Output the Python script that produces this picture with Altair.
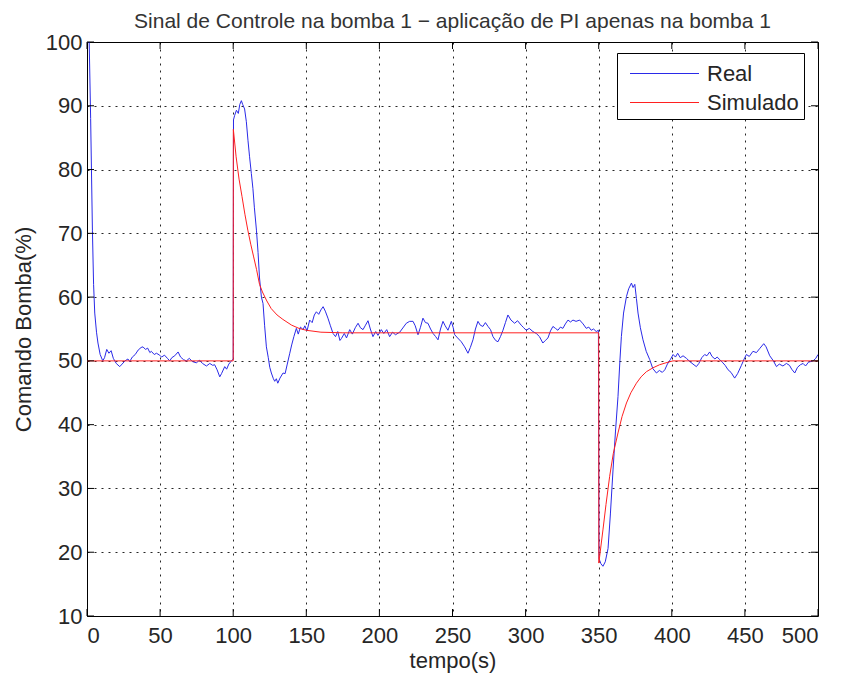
import altair as alt
import pandas as pd

# ---------------- data ----------------
real_t = [0, 1.5, 2.5, 3.7, 4.5, 5.3, 6.5, 7.5, 9, 10.8, 12, 13.5, 15, 16.5, 18, 20, 22.4, 24, 26, 28,
          29.2, 31, 33, 35, 37, 38.3, 40, 41.5, 43, 44, 46, 47.5, 49.7, 51, 53, 55, 56.6, 58, 60, 62.3,
          64, 66, 68, 70, 72, 74.8, 77, 79, 81.7, 84, 86, 87.3, 89, 90.8, 92, 94.2, 95.5, 97, 98.8, 100,
          100.2, 101, 102.2, 103.5, 104.5, 105.6, 106.5, 107.8, 109, 110.1, 111.2, 112.4, 113.5, 114.5, 115.9,
          117, 118, 119.3, 120.4, 121.5, 122.7, 124, 125, 126.1, 127.5, 128.4, 129.5, 130.5, 132, 134.1,
          135.5, 137, 138.7, 140, 141.5, 143.2, 144.5, 146, 147.8, 149, 150.5, 152.3, 154, 155.5, 156.9,
          158.5, 160, 161.5, 163, 164.8, 166.5, 168.3, 170, 171.5, 173, 174, 176, 177.5, 179.7, 181.5,
          183.5, 185.4, 187, 188.8, 190.5, 192.2, 193.8, 195.6, 197.5, 199, 201.3, 203, 205, 207, 209,
          211, 213.9, 215.5, 218.4, 220.7, 223, 224.5, 226.4, 228, 229.8, 231.5, 233.2, 235, 236.7, 238.5,
          240.1, 241.8, 243.5, 245, 246.9, 249.2, 250.5, 251.5, 253.5, 256, 258.3, 260.6, 262.2, 264,
          265.7, 267.4, 269, 270.8, 272.5, 274.3, 276, 277.7, 279.5, 281.1, 282.8, 284.5, 286.2, 287.9,
          290, 292.5, 294.5, 297, 298.7, 300.4, 302.5, 305, 307.3, 309.5, 311.8, 313.5, 315.3, 317, 318.7,
          320.4, 322.1, 323.8, 325.5, 327.2, 329, 330.7, 332.4, 334.5, 337, 339.3, 341.5, 343.2, 344.9,
          346.5, 348.3, 349.8, 350.2, 351.5, 352.9, 354.5, 356.4, 358, 359.8, 361.5, 363.2, 364.5, 365.5,
          367, 369, 370.5, 372.4, 373.5, 374.7, 375.8, 376.9, 378.5, 380.3, 382.5, 384.9, 387, 389.5,
          391.5, 393.5, 395.2, 397, 399, 400.9, 402.5, 404, 405.8, 407.7, 410, 412.3, 414.5, 416.8, 418.5,
          420.5, 422.5, 424, 425.9, 427.5, 429.5, 431, 432.8, 434.5, 436.5, 438.5, 440.5, 443, 445, 447.6,
          449.5, 451, 453, 455.5, 457.9, 460, 462.9, 464.5, 467, 469.5, 471.6, 473.5, 476, 478.4, 480.5,
          482, 484.1, 486, 488, 489.8, 491.5, 493.5, 496.6, 498.5, 500]
real_v = [100, 100, 88, 70.5, 62, 57.5, 54.5, 52.8, 51, 50, 50.5, 51.8, 51.2, 51.6, 50.4, 49.6, 49.1, 49.5, 50, 50.3,
          49.9, 50.6, 51, 51.7, 52.1, 52.2, 51.8, 52, 51.3, 51.5, 51, 51.2, 50.9, 50.6, 50.9, 50.4, 50, 50.5, 50.8, 51.4,
          50.6, 50.2, 50, 50.4, 49.9, 49.7, 50.1, 49.6, 49.2, 49.6, 49.3, 49.4, 48.6, 47.5, 48, 49.1, 48.7, 49.5, 50, 50.3,
          87.8, 88.5, 89.3, 88.8, 90.2, 90.8, 90.2, 89.5, 87.5, 84.6, 82, 79.4, 77, 74, 70.5,
          67, 63, 60, 59, 55.5, 52.2, 50.5, 49, 48.1, 47.2, 46.8, 47.2, 46.5, 47.3, 48.1,
          48, 49.5, 51.2, 52.5, 53.8, 55.1, 54.2, 55.3, 54.9, 55.5, 54.7, 56.4, 56, 57.2, 57.7,
          57.3, 58, 58.5, 57.8, 56.7, 55.5, 54.3, 53.8, 54.6, 53.2, 53.5, 54.3, 53.6, 54.9, 54.2,
          55.2, 55.9, 55.2, 54.9, 55.6, 56.3, 55, 53.8, 54.6, 54, 54.9, 54.3, 54.9, 53.8, 54.5,
          54.1, 54.5, 55, 55.9, 56.2, 56.2, 55.5, 54.1, 55.2, 56.7, 56, 55.9, 55, 54.3, 53.8,
          53.3, 55, 56.2, 55.5, 54.8, 56.2, 55.2, 54.1, 53.6, 53, 52.2, 51.2, 52.1, 53.3,
          55, 56.2, 55.6, 55.4, 56, 55.4, 54.9, 53.8, 53.2, 53, 53.8, 54.8, 56, 57.2,
          56.4, 55.9, 56.3, 55.6, 55.2, 54.8, 55.1, 54.6, 54.3, 53.8, 52.8, 53.2, 53.6, 54.7, 55.4,
          55.1, 54.8, 55.3, 55.1, 55.8, 56.4, 56.1, 56.4, 56.2, 56.4, 55.8, 55.1, 55.3, 54.8,
          55, 54.6, 54.8, 19, 18.2, 17.8, 18.5, 20.6, 26, 32.9, 39, 44.4, 50, 53.8,
          57.5, 60.1, 61.3, 62.2, 61.5, 62, 59.8, 57.5, 55.2, 53.3, 51.5, 50.2, 48.8, 48.1,
          48.5, 48.2, 48.6, 49.5, 50.2, 51, 50.6, 51.2, 50.5, 50.8, 50.4, 49.9, 49.5, 49.1, 49.6,
          50.5, 51, 50.8, 51.4, 50.7, 50.3, 50.6, 50.2, 49.8, 49.3, 48.6, 48.2, 47.3, 48, 49.3,
          50.3, 51, 50.7, 51.5, 51.3, 51.9, 52.7, 52.2, 50.8, 50, 49.1, 49.5, 49.2, 49.6, 49.3,
          48.7, 48.1, 49, 49.4, 49.6, 49.2, 49.8, 50, 50.4, 51]

sim_t = [0, 100, 100.1, 102, 104, 106, 108, 110, 112, 114, 116, 118, 120, 123, 126, 130, 134, 140,
         145, 150, 160, 175, 350, 350.1, 351, 352.9, 355, 357.5, 360, 363.2, 366, 369, 372, 375.8,
         379, 382.6, 387, 391.7, 396, 400.8, 500]
sim_v = [50, 50, 86.3, 82, 78.5, 75.8, 73, 70.5, 68.3, 66.3, 64.3, 62, 60.8, 59.4, 58.2, 57.2, 56.5, 55.6,
         55.1, 54.8, 54.5, 54.4, 54.4, 18.3, 20, 23.5, 27.5, 31.9, 35.5, 38.7, 41.3, 43.4, 45, 46.5,
         47.5, 48.3, 48.9, 49.4, 49.7, 50, 50]

series_names = ["Real", "Simulado"]
series_colors = ["#2a2ae8", "#ff2020"]
x_ticks = [0, 50, 100, 150, 200, 250, 300, 350, 400, 450, 500]
y_ticks = [10, 20, 30, 40, 50, 60, 70, 80, 90, 100]

title_text = "Sinal de Controle na bomba 1 \u2212 aplica\u00e7\u00e3o de PI apenas na bomba 1"

# ---------------- build ----------------
W, H = 731, 574
FONT = "Liberation Sans"
TXT = "#262626"
FS = 22

real = pd.DataFrame({"t": real_t, "v": real_v, "serie": series_names[0], "ordem": range(len(real_t))})
sim = pd.DataFrame({"t": sim_t, "v": sim_v, "serie": series_names[1], "ordem": range(len(sim_t))})
df = pd.concat([real, sim], ignore_index=True)

x_scale = alt.Scale(domain=[0, 500], nice=False, zero=False)
y_scale = alt.Scale(domain=[10, 100], nice=False, zero=False)
x_axis = alt.Axis(values=x_ticks, title="tempo(s)", format="d")
y_axis = alt.Axis(values=y_ticks, title="Comando Bomba(%)", format="d")

lines = alt.Chart(df).mark_line(strokeWidth=1, clip=True).encode(
    x=alt.X("t:Q", scale=x_scale, axis=x_axis),
    y=alt.Y("v:Q", scale=y_scale, axis=y_axis),
    color=alt.Color("serie:N",
                    scale=alt.Scale(domain=series_names, range=series_colors),
                    legend=alt.Legend(title=None, orient="none", legendX=530, legendY=11,
                                      direction="vertical", symbolType="M-0.5,0H4.1",
                                      symbolSize=900, symbolStrokeWidth=1,
                                      labelFont=FONT, labelFontSize=FS, labelColor=TXT,
                                      labelOffset=54, strokeColor="black", fillColor="white",
                                      padding=5, rowPadding=2)),
    order="ordem:Q",
)

xt = pd.DataFrame({"t": x_ticks})
yt = pd.DataFrame({"v": y_ticks})
tick_x = alt.X("t:Q", scale=x_scale, axis=x_axis)
tick_y = alt.Y("v:Q", scale=y_scale, axis=y_axis)
bottom_ticks = alt.Chart(xt).mark_rule(color="black", strokeWidth=1).encode(
    x=tick_x, y=alt.value(H), y2=alt.value(H - 7))
top_ticks = alt.Chart(xt).mark_rule(color="black", strokeWidth=1).encode(
    x=tick_x, y=alt.value(0), y2=alt.value(7))
left_ticks = alt.Chart(yt).mark_rule(color="black", strokeWidth=1).encode(
    y=tick_y, x=alt.value(0), x2=alt.value(7))
right_ticks = alt.Chart(yt).mark_rule(color="black", strokeWidth=1).encode(
    y=tick_y, x=alt.value(W), x2=alt.value(W - 7))

chart = alt.layer(lines, bottom_ticks, top_ticks, left_ticks, right_ticks).properties(
    width=W, height=H,
    title=alt.TitleParams(title_text, font=FONT, fontSize=21, fontWeight="normal",
                          color="#333333", anchor="middle", offset=-1),
    autosize=alt.AutoSizeParams(type="none"),
    padding={"left": 79, "top": 34, "right": 16, "bottom": 58},
).configure_view(
    stroke="black", strokeWidth=1
).configure_axis(
    grid=True, gridColor="black", gridDash=[2, 5], gridOpacity=0.85, gridWidth=1,
    domain=False, ticks=False,
    labelFont=FONT, labelFontSize=FS, labelColor=TXT,
    titleFont=FONT, titleFontSize=FS, titleFontWeight="normal", titleColor=TXT,
).configure_axisX(
    labelPadding=9, titlePadding=4
).configure_axisY(
    labelPadding=5, titlePadding=10
)

chart.save("out.html", embed_options={"renderer": "svg", "actions": False})
